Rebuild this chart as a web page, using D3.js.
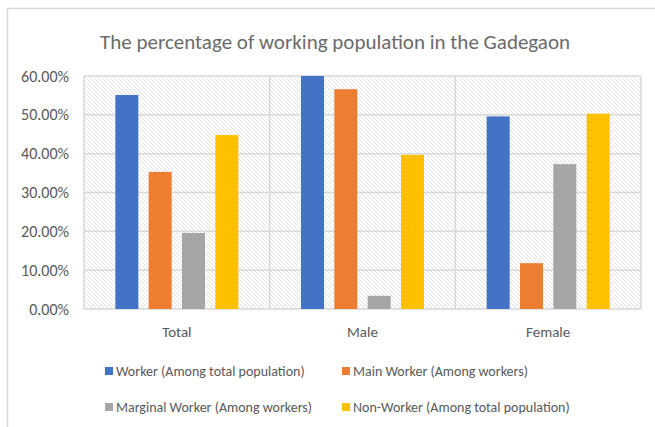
<!DOCTYPE html>
<html>
<head>
<meta charset="utf-8">
<script src="https://cdn.jsdelivr.net/npm/d3@7"></script>
<style>
  body { margin: 0; background: #fff; }
  text { font-family: "Carlito", "Liberation Sans Narrow", "Roboto Condensed", "Liberation Sans", sans-serif; fill: #595959; }
</style>
</head>
<body>
<div id="chart"></div>
<script>
// Data
const categories = ["Total", "Male", "Female"];
const seriesNames = [
  "Worker (Among total population)",
  "Main Worker (Among workers)",
  "Marginal Worker (Among workers)",
  "Non-Worker (Among total population)"
];
const worker = [55.1, 60.3, 49.6];
const mainWorker = [35.3, 56.6, 11.8];
const marginalWorker = [19.6, 3.4, 37.3];
const nonWorker = [44.8, 39.7, 50.3];
const yTicks = [0, 10, 20, 30, 40, 50, 60];
const colors = ["#4472C4", "#ED7D31", "#A5A5A5", "#FFC000"];

const seriesValues = [worker, mainWorker, marginalWorker, nonWorker];
const table = categories.map((c, i) => ({
  category: c,
  values: seriesNames.map((s, j) => ({ key: s, value: seriesValues[j][i] }))
}));

const W = 655, H = 427;
const margin = { top: 76, right: 14, bottom: 118, left: 84 },
      width = W - margin.left - margin.right,
      height = H - margin.top - margin.bottom;

const root = d3.select("#chart").append("svg")
  .attr("width", W)
  .attr("height", H);

root.append("rect").attr("width", W).attr("height", H).attr("fill", "#fff");

// hatch pattern behind the plot
const defs = root.append("defs");
defs.append("pattern")
  .attr("id", "hatch")
  .attr("patternUnits", "userSpaceOnUse")
  .attr("width", 4).attr("height", 4)
  .append("path")
    .attr("d", "M-1,-1L5,5M-1,3L1,5M3,-1L5,1")
    .attr("stroke", "#e2e2e2")
    .attr("stroke-width", 1);

// outer chart frame (runs off the right and bottom of the picture)
root.append("rect")
  .attr("x", 7.5).attr("y", 8.5)
  .attr("width", W).attr("height", H)
  .attr("fill", "none")
  .attr("stroke", "#d9d9d9")
  .attr("stroke-width", 1.5);

// title
root.append("text")
  .attr("x", 335).attr("y", 49)
  .attr("text-anchor", "middle")
  .style("font-size", "21px")
  .style("font-weight", 300)
  .attr("fill", "#6b6b6b")
  .style("fill", "#6b6b6b")
  .text("The percentage of working population in the Gadegaon");

const svg = root.append("g")
  .attr("transform", "translate(" + margin.left + "," + margin.top + ")");

const x0 = d3.scaleBand()
  .domain(categories)
  .range([0, width])
  .padding(0);

const x1 = d3.scaleBand()
  .domain(seriesNames)
  .range([0, x0.bandwidth()])
  .paddingInner(0.31)
  .paddingOuter(0.94);

const y = d3.scaleLinear()
  .domain([0, 60])
  .range([height, 0])
  .clamp(true);

svg.append("rect")
  .attr("width", width).attr("height", height)
  .attr("fill", "url(#hatch)");

// gridlines
svg.append("g")
  .selectAll("line")
  .data(yTicks)
  .enter()
  .append("line")
    .attr("x1", 0).attr("x2", width)
    .attr("y1", d => y(d)).attr("y2", d => y(d))
    .attr("stroke", "#d9d9d9")
    .attr("stroke-width", 1.5);

// vertical dividers between categories
svg.append("g")
  .selectAll("line")
  .data(categories.concat(["end"]))
  .enter()
  .append("line")
    .attr("x1", (d, i) => i < categories.length ? x0(d) : width)
    .attr("x2", (d, i) => i < categories.length ? x0(d) : width)
    .attr("y1", 0).attr("y2", height)
    .attr("stroke", "#d9d9d9")
    .attr("stroke-width", 1.5);

// Y axis labels
const yAxis = svg.append("g")
  .call(d3.axisLeft(y).tickValues(yTicks).tickSize(0).tickPadding(15)
    .tickFormat(d => d3.format(".2f")(d) + "%"));
yAxis.select(".domain").remove();
yAxis.selectAll("text").style("font-size", "16px").attr("fill", "#595959");

// X axis labels
const xAxis = svg.append("g")
  .attr("transform", "translate(0," + height + ")")
  .call(d3.axisBottom(x0).tickSize(0).tickPadding(17));
xAxis.select(".domain").remove();
xAxis.selectAll("text").style("font-size", "15px").attr("fill", "#595959");

// bars
svg.append("g")
  .selectAll("g")
  .data(table)
  .enter()
  .append("g")
    .attr("transform", d => "translate(" + x0(d.category) + ",0)")
  .selectAll("rect")
  .data(d => d.values)
  .enter()
  .append("rect")
    .attr("x", d => x1(d.key))
    .attr("y", d => y(d.value))
    .attr("width", x1.bandwidth())
    .attr("height", d => height - y(d.value))
    .attr("fill", (d, i) => colors[i]);

// legend
const legend = root.append("g")
  .selectAll("g")
  .data(seriesNames)
  .enter()
  .append("g")
    .attr("transform", (d, i) => "translate(" + (105 + (i % 2) * 237) + "," + (367 + Math.floor(i / 2) * 36) + ")");

legend.append("rect")
  .attr("width", 8).attr("height", 8)
  .attr("fill", (d, i) => colors[i]);

legend.append("text")
  .attr("x", 11).attr("y", 8.5)
  .style("font-size", "14px")
  .text(d => d);
</script>
</body>
</html>
